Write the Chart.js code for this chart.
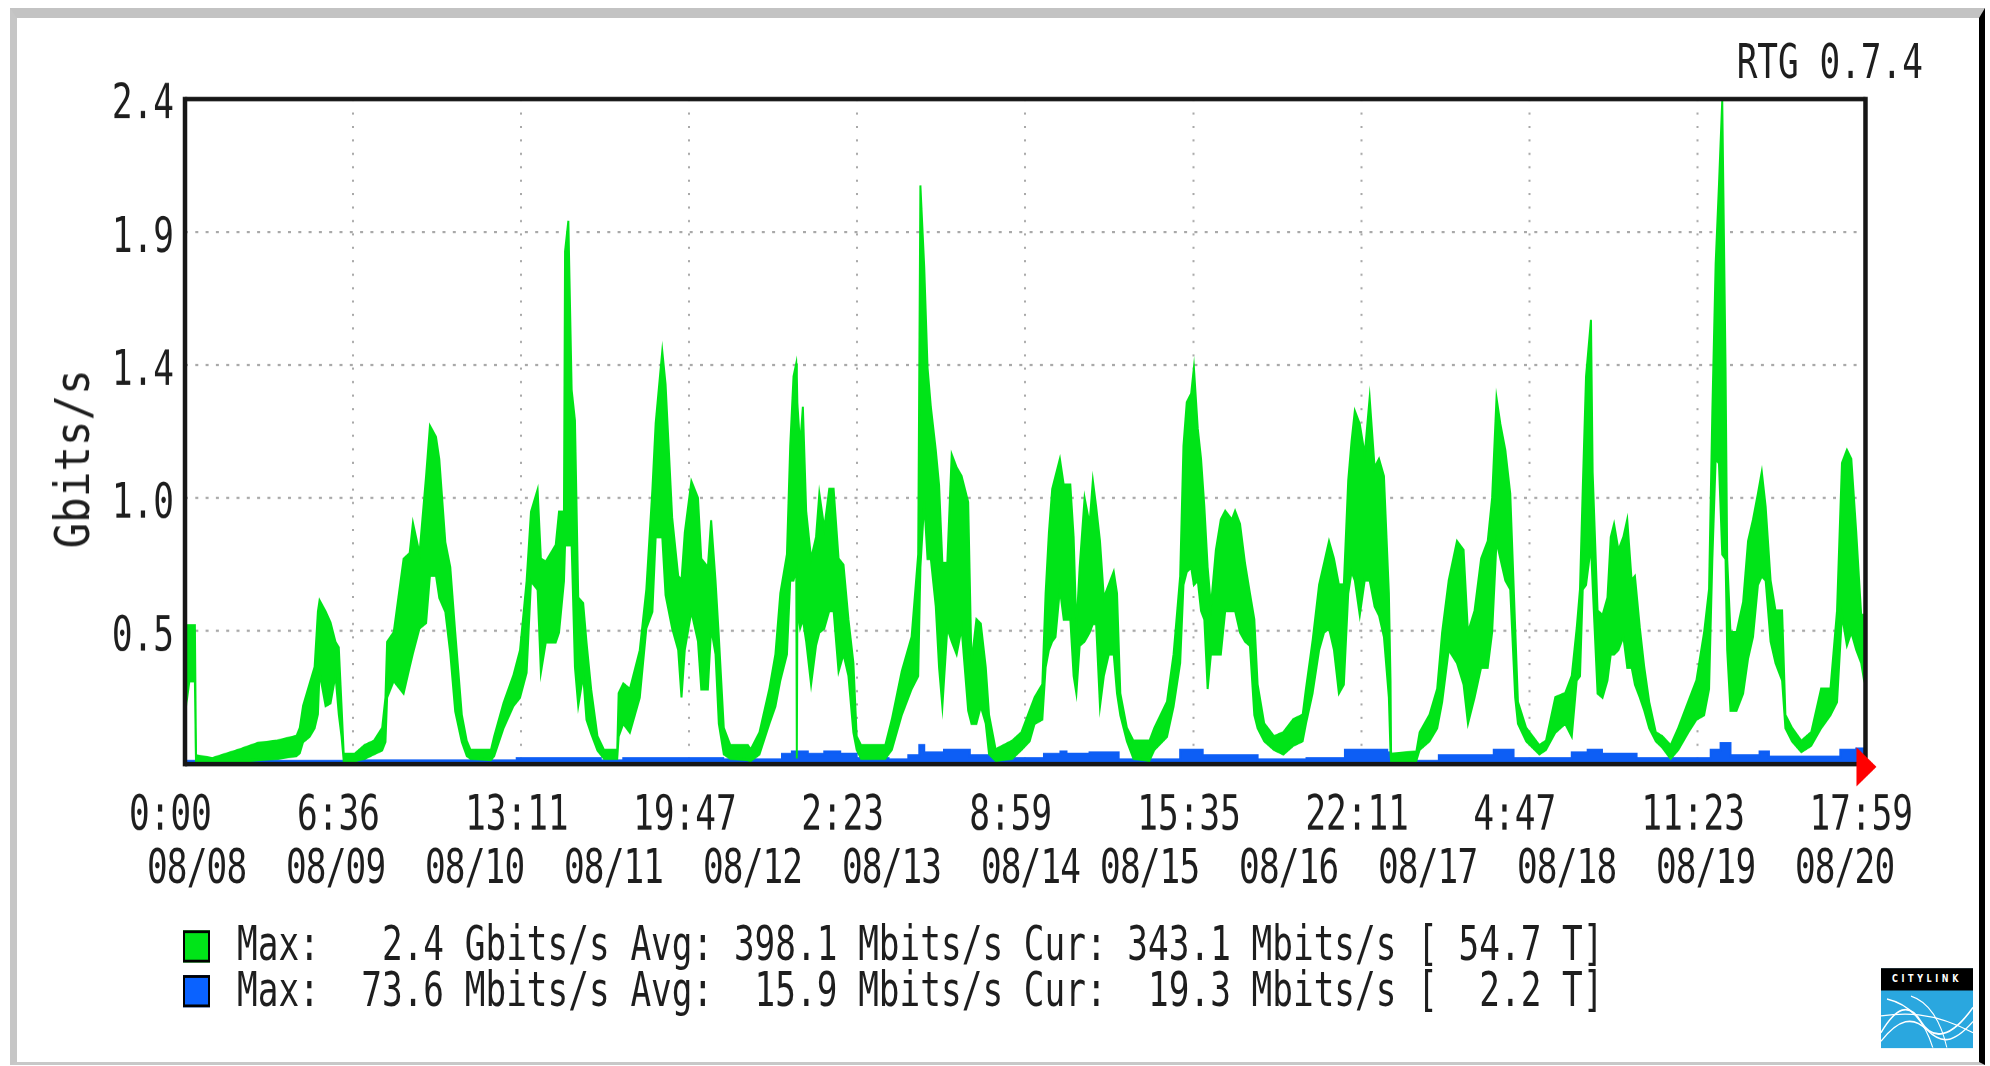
<!DOCTYPE html>
<html>
<head>
<meta charset="utf-8">
<title>RTG 0.7.4 - traffic 08/08 - 08/20</title>
<script src="https://cdn.jsdelivr.net/npm/chart.js@4.4.1/dist/chart.umd.min.js"></script>
<style>
  html, body { margin: 0; padding: 0; background: #fff; }
  body {
    width: 1990px; height: 1066px; position: relative; overflow: hidden;
    font-family: "DejaVu Sans Mono", monospace; color: #1e1e1e;
  }
  #frame {
    position: absolute; left: 10px; top: 8px; width: 1962px; height: 1044px;
    border-top: 10px solid #c3c3c3; border-left: 7px solid #c6c6c6;
    border-bottom: 3px solid #c8c8c8; border-right: 6px solid #000;
  }
  /* the RTG bitmap is stretched vertically, so the whole stage is too */
  #stage {
    position: absolute; left: 0; top: 0; width: 1990px; height: 762px;
    transform: scaleY(1.399); transform-origin: 0 0;
  }
  #chart { position: absolute; left: 0; top: 0; width: 1990px; height: 762px; }
  .txt { position: absolute; font-size: 34.4px; line-height: 40px; white-space: pre; }
  #rtg { right: 67px; top: 24px; }
  #dates { left: 147px; top: 599px; letter-spacing: -0.85px; }
  #ytitle {
    left: 72px; top: 328px;
    transform: translate(-50%, -50%) rotate(-90deg) scale(0.883, 1.4);
  }
  .swatch { position: absolute; left: 183px; width: 23px; height: 19px; border: 2px solid #000; }
  #logo {
    position: absolute; left: 1881px; top: 692px; width: 92px; height: 57px;
    background: #2aa7df; overflow: hidden;
  }
  #logo .bar {
    height: 15.7px; background: #000; color: #fff; text-align: center;
    font: bold 8px "DejaVu Sans", sans-serif; letter-spacing: 3.6px; line-height: 15.7px;
  }
  #logo svg { display: block; width: 92px; height: 41.3px; }
</style>
</head>
<body>
<div id="frame"></div>
<div id="stage">
  <canvas id="chart" width="1990" height="762"></canvas>
  <div class="txt" id="rtg">RTG 0.7.4</div>
  <div class="txt" id="ytitle">Gbits/s</div>
  <div class="txt" id="dates"></div>
  <div class="swatch" id="sw0" style="top:665px"></div>
  <div class="txt" id="leg0" style="left:237px;top:653.7px"></div>
  <div class="swatch" id="sw1" style="top:697px"></div>
  <div class="txt" id="leg1" style="left:237px;top:687px"></div>
  <div id="logo">
    <div class="bar">CITYLINK</div>
    <svg viewBox="0 0 92 41" preserveAspectRatio="none">
      <path d="M0 30 C15 12 28 8 40 22 S70 34 92 12" stroke="#fff" stroke-width="1.3" fill="none"/>
      <path d="M0 36 C18 20 32 18 46 28 S72 38 92 22" stroke="#fff" stroke-width="1.1" fill="none"/>
      <path d="M6 6 C30 10 44 22 52 41" stroke="#fff" stroke-width="1.1" fill="none"/>
      <path d="M30 4 C48 8 60 22 66 41" stroke="#fff" stroke-width="1" fill="none"/>
      <path d="M0 18 C20 16 50 14 92 30" stroke="#fff" stroke-width="0.9" fill="none"/>
    </svg>
  </div>
</div>

<script>
/* --------------------------------------------
   Data (hours since 08/08 0:00, Gbits/s)
-------------------------------------------- */
const hours = [
  0.0, 0.8, 1.8, 2.0, 5.0, 9.7, 13.3, 16.8, 20.3, 20.9, 21.5, 22.7, 23.6, 24.2, 24.5, 25.6, 26.5, 27.4, 28.0, 28.5,
  28.9, 30.9, 32.7, 34.4, 35.9, 36.5, 36.8, 38.0, 39.8, 40.9, 41.5, 42.7, 43.9, 44.6, 45.7, 46.3, 47.4, 48.3, 49.2, 50.4,
  51.3, 52.0, 55.7, 56.3, 58.0, 59.8, 61.0, 62.2, 63.0, 64.2, 64.8, 65.7, 67.5, 68.1, 69.0, 69.2, 69.8, 70.4, 71.0, 71.6,
  72.5, 73.1, 73.95, 75.1, 76.3, 78.7, 78.96, 79.8, 81.0, 82.8, 84.0, 85.1, 85.7, 86.9, 87.5, 88.7, 89.8, 90.4, 91.0, 92.2,
  93.4, 94.0, 95.2, 95.8, 96.6, 97.2, 98.1, 99.3, 102.5, 103.0, 104.6, 106.4, 107.5, 108.4, 109.6, 110.2, 110.8, 111.3, 111.4, 111.5,
  112.0, 112.5, 113.1, 114.0, 114.9, 115.5, 116.4, 117.3, 118.1, 119.0, 119.9, 120.8, 121.7, 122.3, 123.1, 127.5, 128.7, 130.5, 132.3, 133.5,
  133.9, 134.6, 135.2, 135.8, 136.7, 137.3, 137.9, 138.8, 139.6, 140.5, 141.4, 142.6, 143.2, 144.1, 144.9, 145.8, 146.4, 147.6, 150.6, 152.3,
  153.8, 154.7, 156.1, 156.7, 157.3, 157.9, 158.5, 159.3, 160.0, 161.2, 161.8, 162.3, 162.9, 163.8, 164.7, 165.3, 165.9, 166.6, 167.3, 168.2,
  169.1, 169.7, 170.3, 171.5, 172.7, 175.6, 176.5, 178.8, 180.0, 181.2, 181.8, 182.4, 183.2, 183.7, 184.4, 185.0, 185.6, 186.2, 186.8, 187.7,
  188.6, 189.4, 190.6, 191.2, 192.1, 193.0, 193.9, 194.7, 195.3, 196.5, 198.3, 200.0, 201.8, 203.5, 204.1, 205.3, 206.5, 207.4, 208.3, 209.2,
  210.1, 211.0, 211.8, 212.4, 213.0, 213.9, 214.8, 215.7, 216.6, 217.4, 218.3, 219.2, 219.5, 219.6, 224.2, 224.8, 226.6, 228.0, 228.9, 230.1,
  231.6, 232.8, 233.6, 234.8, 236.0, 237.2, 238.0, 238.8, 239.5, 240.4, 241.3, 242.2, 242.7, 244.2, 246.6, 247.8, 249.5, 251.3, 252.5, 253.4,
  254.0, 254.5, 255.1, 256.0, 256.3, 257.2, 258.1, 259.0, 259.6, 260.2, 261.0, 261.9, 262.6, 263.4, 264.0, 264.9, 265.7, 266.6, 267.8, 269.0,
  270.5, 271.9, 273.7, 275.2, 276.6, 277.5, 278.1, 278.7, 279.3, 279.9, 280.5, 280.8, 281.4, 282.5, 283.7, 284.6, 285.5, 286.4, 287.1, 287.8,
  288.7, 289.6, 290.8, 291.4, 292.6, 294.3, 296.1, 297.9, 299.6, 300.8, 301.7, 302.6, 303.4, 304.3, 305.2, 305.98
];

// top edge of the green (inbound) band
const greenHigh = [
  0.50, 0.50, 0.50, 0.03, 0.02, 0.05, 0.075, 0.083, 0.10, 0.13, 0.21, 0.29, 0.35, 0.55, 0.59, 0.55, 0.51, 0.44, 0.42, 0.21,
  0.036, 0.036, 0.067, 0.083, 0.13, 0.24, 0.44, 0.475, 0.74, 0.76, 0.87, 0.76, 1.04, 1.22, 1.18, 1.10, 0.80, 0.71, 0.475, 0.177,
  0.083, 0.05, 0.05, 0.10, 0.22, 0.32, 0.41, 0.66, 0.91, 0.99, 0.74, 0.73, 0.79, 0.91, 0.91, 1.85, 1.96, 1.35, 1.24, 0.60,
  0.58, 0.44, 0.27, 0.10, 0.05, 0.05, 0.255, 0.29, 0.27, 0.41, 0.63, 0.99, 1.23, 1.49, 1.37, 0.89, 0.678, 0.663, 0.835, 1.02,
  0.96, 0.74, 0.71, 0.88, 0.66, 0.459, 0.13, 0.067, 0.067, 0.052, 0.114, 0.271, 0.396, 0.616, 0.757, 1.148, 1.399, 1.446, 1.40, 1.30,
  1.148, 1.289, 0.913, 0.741, 0.819, 0.976, 0.851, 0.992, 0.992, 0.741, 0.718, 0.522, 0.365, 0.099, 0.067, 0.067, 0.161, 0.334, 0.459, 0.757,
  2.088, 1.791, 1.43, 1.289, 1.133, 1.007, 0.725, 0.725, 1.117, 1.07, 1.039, 0.945, 0.365, 0.522, 0.506, 0.349, 0.177, 0.052, 0.083, 0.114,
  0.193, 0.24, 0.287, 0.616, 0.835, 0.992, 1.039, 1.101, 1.007, 1.007, 0.819, 0.49, 0.71, 0.96, 0.866, 1.023, 0.929, 0.804, 0.60, 0.647,
  0.694, 0.616, 0.255, 0.13, 0.083, 0.083, 0.13, 0.224, 0.396, 0.678, 1.148, 1.305, 1.336, 1.43, 1.211, 1.101, 0.929, 0.71, 0.569, 0.772,
  0.882, 0.913, 0.882, 0.913, 0.866, 0.725, 0.616, 0.522, 0.287, 0.146, 0.099, 0.114, 0.161, 0.177, 0.271, 0.443, 0.647, 0.725, 0.804, 0.741,
  0.647, 0.647, 1.023, 1.164, 1.274, 1.227, 1.117, 1.321, 1.07, 1.101, 1.039, 0.616, 0.30, 0.036, 0.044, 0.114, 0.177, 0.271, 0.475, 0.663,
  0.804, 0.772, 0.475, 0.553, 0.741, 0.804, 0.96, 1.321, 1.227, 1.133, 0.976, 0.49, 0.224, 0.13, 0.067, 0.083, 0.24, 0.255, 0.318, 0.49,
  0.631, 0.992, 1.399, 1.603, 1.054, 0.553, 0.537, 0.60, 0.819, 0.866, 0.772, 0.819, 0.882, 0.663, 0.678, 0.49, 0.349, 0.224, 0.114, 0.099,
  0.067, 0.13, 0.224, 0.302, 0.475, 0.631, 1.274, 1.806, 2.088, 2.394, 1.43, 0.741, 0.475, 0.475, 0.584, 0.804, 0.882, 0.976, 1.054, 0.929,
  0.663, 0.553, 0.553, 0.177, 0.13, 0.083, 0.114, 0.271, 0.271, 0.553, 1.086, 1.133, 1.101, 0.835, 0.537, 0.537
];

// bottom edge of the green band
const greenLow = [
  0.18, 0.30, 0.30, 0.01, 0.01, 0.01, 0.015, 0.02, 0.03, 0.04, 0.08, 0.10, 0.13, 0.18, 0.33, 0.21, 0.22, 0.32, 0.18, 0.10,
  0.012, 0.012, 0.02, 0.036, 0.05, 0.08, 0.24, 0.30, 0.255, 0.35, 0.40, 0.49, 0.51, 0.68, 0.68, 0.60, 0.55, 0.40, 0.19, 0.08,
  0.03, 0.02, 0.015, 0.03, 0.13, 0.21, 0.24, 0.33, 0.66, 0.63, 0.33, 0.44, 0.44, 0.475, 0.66, 0.79, 0.79, 0.79, 0.35, 0.21,
  0.32, 0.16, 0.11, 0.05, 0.02, 0.02, 0.10, 0.146, 0.114, 0.24, 0.49, 0.55, 0.82, 0.82, 0.61, 0.49, 0.412, 0.24, 0.412, 0.55,
  0.443, 0.27, 0.27, 0.49, 0.396, 0.146, 0.036, 0.02, 0.015, 0.012, 0.036, 0.146, 0.208, 0.302, 0.396, 0.663, 0.663, 0.70, 0.02, 0.56,
  0.49, 0.522, 0.443, 0.287, 0.428, 0.475, 0.49, 0.553, 0.553, 0.334, 0.396, 0.318, 0.114, 0.052, 0.02, 0.02, 0.052, 0.177, 0.271, 0.318,
  0.71, 0.945, 0.741, 0.741, 0.569, 0.349, 0.208, 0.49, 0.443, 0.396, 0.49, 0.193, 0.146, 0.146, 0.208, 0.146, 0.036, 0.0125, 0.02, 0.052,
  0.083, 0.146, 0.161, 0.349, 0.412, 0.443, 0.459, 0.631, 0.522, 0.522, 0.318, 0.255, 0.428, 0.443, 0.475, 0.506, 0.506, 0.208, 0.318, 0.396,
  0.396, 0.255, 0.177, 0.083, 0.02, 0.0125, 0.052, 0.099, 0.208, 0.365, 0.647, 0.694, 0.71, 0.647, 0.663, 0.553, 0.522, 0.271, 0.396, 0.396,
  0.396, 0.553, 0.553, 0.553, 0.475, 0.443, 0.428, 0.177, 0.13, 0.083, 0.052, 0.036, 0.067, 0.083, 0.146, 0.255, 0.412, 0.475, 0.49, 0.412,
  0.255, 0.287, 0.616, 0.694, 0.663, 0.537, 0.663, 0.663, 0.569, 0.537, 0.459, 0.24, 0.04, 0.0125, 0.0125, 0.052, 0.083, 0.13, 0.224, 0.412,
  0.365, 0.287, 0.146, 0.24, 0.349, 0.349, 0.475, 0.804, 0.741, 0.663, 0.631, 0.24, 0.146, 0.083, 0.036, 0.052, 0.114, 0.146, 0.099, 0.302,
  0.318, 0.631, 0.647, 0.788, 0.647, 0.255, 0.24, 0.302, 0.396, 0.396, 0.412, 0.459, 0.349, 0.349, 0.287, 0.24, 0.193, 0.13, 0.083, 0.06,
  0.02, 0.052, 0.114, 0.161, 0.177, 0.271, 0.741, 1.101, 1.086, 0.757, 0.741, 0.412, 0.193, 0.193, 0.255, 0.381, 0.459, 0.647, 0.678, 0.663,
  0.443, 0.365, 0.302, 0.13, 0.083, 0.044, 0.067, 0.13, 0.177, 0.224, 0.537, 0.428, 0.475, 0.412, 0.365, 0.271
];

// blue (outbound) series, step levels
const blueHours = [
  0, 30, 60.4, 75.7, 79.8, 98, 108.7, 110.5, 113.4, 116.4, 119.3, 122.3, 128.1, 131.7, 133.7, 134.6, 138.2, 142.9, 148.8, 156.4,
  159.4, 160.5, 164.7, 170.0, 181.2, 185.3, 195.3, 204.2, 211.2, 218.9, 219.6, 228.3, 238.3, 241.9, 252.5, 255.4, 258, 264.3, 277.8, 279.6,
  281.4, 286.7, 288.4, 301.4, 304.3, 305.98
];
const blueRate = [
  0.010, 0.012, 0.02, 0.012, 0.02, 0.015, 0.035, 0.044, 0.035, 0.044, 0.036, 0.02, 0.015, 0.03, 0.067, 0.04, 0.05, 0.03, 0.02, 0.035,
  0.044, 0.036, 0.04, 0.015, 0.05, 0.03, 0.015, 0.02, 0.05, 0.04, 0.01, 0.03, 0.05, 0.02, 0.04, 0.05, 0.036, 0.02, 0.05, 0.074,
  0.03, 0.044, 0.025, 0.05, 0.055, 0.04
];

const timeLabels = ["0:00", "6:36", "13:11", "19:47", "2:23", "8:59", "15:35", "22:11", "4:47", "11:23", "17:59"];
const dateLabels = ["08/08", "08/09", "08/10", "08/11", "08/12", "08/13", "08/14", "08/15", "08/16", "08/17", "08/18", "08/19", "08/20"];
const yTicks = [0, 0.48, 0.96, 1.44, 1.92, 2.4];

const seriesMax = ["2.4", "73.6"];
const seriesMaxUnit = ["Gbits/s", "Mbits/s"];
const seriesAvg = ["398.1", "15.9"];
const seriesCur = ["343.1", "19.3"];
const seriesTotal = ["54.7", "2.2"];

const spanHours = 305.98; // 08/08 0:00 -> 08/20 17:59

/* --------------------------------------------
   Text around the plot
-------------------------------------------- */
const GREEN = "#00e418";
const BLUE = "#0d5ef5";

document.getElementById("dates").textContent = dateLabels
  .map((d, i) => (i === 0 ? d : (d === "08/15" ? " " : "  ") + d))
  .join("");

[0, 1].forEach((i) => {
  document.getElementById(`sw${i}`).style.background = i === 0 ? GREEN : "#0a62ff";
  document.getElementById(`leg${i}`).textContent =
    `Max: ${seriesMax[i].padStart(5)} ${seriesMaxUnit[i]} ` +
    `Avg: ${seriesAvg[i].padStart(5)} Mbits/s ` +
    `Cur: ${seriesCur[i].padStart(5)} Mbits/s ` +
    `[${seriesTotal[i].padStart(5)} T]`;
});

/* --------------------------------------------
   Plot frame + red arrow (RTG style)
-------------------------------------------- */
const rtgFrame = {
  id: "rtgFrame",
  afterDatasetsDraw(chart) {
    const { ctx, chartArea: a } = chart;
    ctx.save();
    ctx.strokeStyle = "#161616";
    ctx.lineWidth = 3.2;
    ctx.beginPath();
    ctx.moveTo(a.left, a.top);
    ctx.lineTo(a.right, a.top);
    ctx.moveTo(a.left, a.bottom);
    ctx.lineTo(a.right, a.bottom);
    ctx.stroke();
    ctx.lineWidth = 4.5;
    ctx.beginPath();
    ctx.moveTo(a.left, a.top - 1.6);
    ctx.lineTo(a.left, a.bottom + 1.6);
    ctx.moveTo(a.right, a.top - 1.6);
    ctx.lineTo(a.right, a.bottom + 1.6);
    ctx.stroke();

    ctx.fillStyle = "#ff0000";
    ctx.beginPath();
    ctx.moveTo(a.right - 9, a.bottom - 12);
    ctx.lineTo(a.right + 11, a.bottom + 2);
    ctx.lineTo(a.right - 9, a.bottom + 16);
    ctx.closePath();
    ctx.fill();
    ctx.restore();
  },
};

/* --------------------------------------------
   Chart
-------------------------------------------- */
const pts = (xs, ys) => xs.map((x, i) => ({ x, y: ys[i] }));

Chart.defaults.font.family = '"DejaVu Sans Mono", monospace';
Chart.defaults.font.size = 34.4;
Chart.defaults.color = "#1e1e1e";

new Chart(document.getElementById("chart"), {
  type: "line",
  data: {
    datasets: [
      {
        label: "in (low)",
        data: pts(hours, greenLow),
        borderColor: GREEN,
        borderWidth: 2,
        pointRadius: 0,
        fill: false,
        order: 0,
      },
      {
        label: "in",
        data: pts(hours, greenHigh),
        borderColor: GREEN,
        backgroundColor: GREEN,
        borderWidth: 2,
        pointRadius: 0,
        fill: "-1",
        order: 0,
      },
      {
        label: "out",
        data: pts(blueHours, blueRate),
        borderColor: BLUE,
        backgroundColor: BLUE,
        borderWidth: 2,
        pointRadius: 0,
        stepped: true,
        fill: "origin",
        order: 1,
      },
    ],
  },
  options: {
    responsive: false,
    animation: false,
    devicePixelRatio: 2,
    events: [],
    layout: { padding: { top: 70.8, right: 74, left: 0, bottom: 0 } },
    plugins: {
      legend: { display: false },
      tooltip: { enabled: false },
    },
    scales: {
      x: {
        type: "linear",
        min: 0,
        max: spanHours,
        afterBuildTicks: (s) => {
          s.ticks = timeLabels.map((_, i) => ({ value: (i * spanHours) / (timeLabels.length - 1) }));
        },
        afterFit: (s) => {
          s.height = 215.9;
        },
        grid: { color: "#a9a9a9", lineWidth: 2, drawTicks: false },
        border: { display: false, dash: [1.5, 8.1] },
        ticks: {
          autoSkip: false,
          maxRotation: 0,
          minRotation: 0,
          align: "start",
          labelOffset: -56,
          padding: 21,
          font: { lineHeight: 1 },
          callback: (v, i) => timeLabels[i],
        },
      },
      y: {
        min: 0,
        max: 2.4,
        afterBuildTicks: (s) => {
          s.ticks = yTicks.map((value) => ({ value }));
        },
        afterFit: (s) => {
          s.width = 185;
        },
        grid: { color: "#a9a9a9", lineWidth: 1.6, drawTicks: false },
        border: { display: false, dash: [3, 7.3] },
        ticks: {
          padding: 11,
          labelOffset: 5,
          font: { lineHeight: 1 },
          callback: (v) => (v ? v.toFixed(1) : ""),
        },
      },
    },
  },
  plugins: [rtgFrame],
});
</script>
</body>
</html>
